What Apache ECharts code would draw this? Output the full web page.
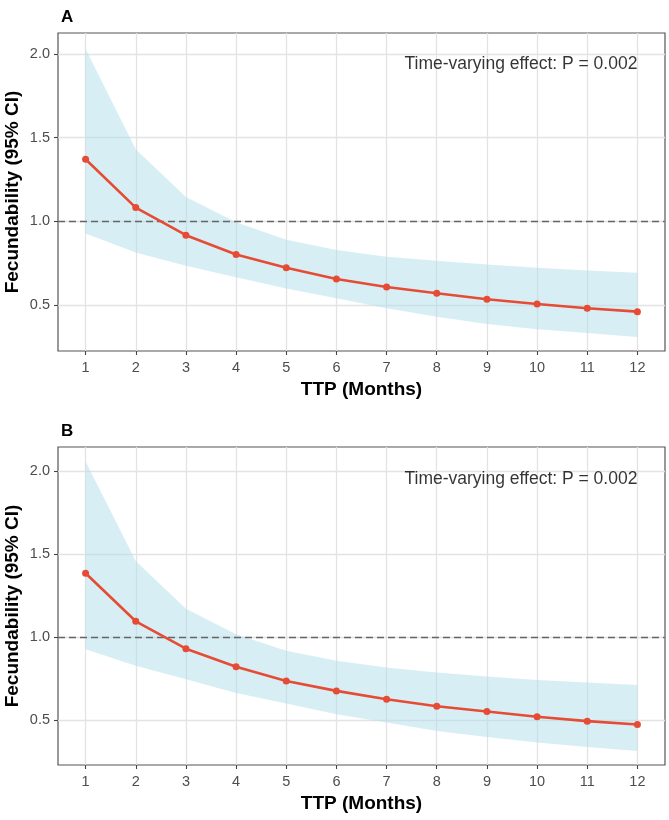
<!DOCTYPE html>
<html>
<head>
<meta charset="utf-8">
<script src="https://cdn.jsdelivr.net/npm/echarts@6/dist/echarts.min.js"></script>
<style>
html,body{margin:0;padding:0;background:#fff;}
#chart{width:669px;height:820px;}
</style>
</head>
<body>
<div id="chart"></div>
<script>
// ---- data ----
const months = [1, 2, 3, 4, 5, 6, 7, 8, 9, 10, 11, 12];
const yTicks = [0.5, 1.0, 1.5, 2.0];

const aFit   = [1.371, 1.082, 0.917, 0.802, 0.722, 0.655, 0.607, 0.570, 0.534, 0.506, 0.480, 0.460];
const aLower = [0.927, 0.814, 0.734, 0.665, 0.599, 0.540, 0.480, 0.430, 0.387, 0.355, 0.332, 0.308];
const aUpper = [2.030, 1.430, 1.145, 0.995, 0.890, 0.828, 0.788, 0.764, 0.742, 0.722, 0.706, 0.692];

const bFit   = [1.383, 1.094, 0.929, 0.820, 0.735, 0.675, 0.625, 0.583, 0.551, 0.519, 0.493, 0.473];
const bLower = [0.926, 0.826, 0.745, 0.662, 0.599, 0.535, 0.485, 0.434, 0.398, 0.365, 0.338, 0.314];
const bUpper = [2.055, 1.457, 1.170, 1.016, 0.916, 0.856, 0.816, 0.786, 0.762, 0.741, 0.726, 0.711];

const panelLabels = ['A', 'B'];
const annotationText = 'Time-varying effect: P = 0.002';
const annotationY = [1.94, 1.95];
const refLine = 1.0;
const xTitle = 'TTP (Months)';
const yTitle = 'Fecundability (95% CI)';

// ---- chart ----
const chart = echarts.init(document.getElementById('chart'), null, {renderer: 'canvas'});
const FONT = 'Liberation Sans, Arial, sans-serif';
const RED = '#E64B35';

function pairs(xs, ys) { return xs.map((x, i) => [x, ys[i]]); }

const grids = [
  {left: 58, top: 33, width: 607, height: 318},
  {left: 58, top: 447, width: 607, height: 318}
];
const yRanges = [[0.225, 2.125], [0.229, 2.143]];

const xAxes = [], yAxes = [], series = [];
[[aFit, aLower, aUpper], [bFit, bLower, bUpper]].forEach((set, k) => {
  const [fit, lower, upper] = set;
  Object.assign(grids[k], {
    show: true, borderColor: '#555555', borderWidth: 1.2,
    backgroundColor: 'transparent', containLabel: false, outerBoundsMode: 'none'
  });
  xAxes.push({
    type: 'value', gridIndex: k, min: 0.45, max: 12.55,
    name: xTitle, nameLocation: 'middle', nameGap: 29, nameMoveOverlap: false,
    nameTextStyle: {fontFamily: FONT, fontSize: 19, fontWeight: 'bold', color: '#000'},
    axisLine: {show: false},
    axisTick: {show: true, customValues: months, length: 4, lineStyle: {color: '#444', width: 1.1}},
    axisLabel: {customValues: months, margin: 9, fontFamily: FONT, fontSize: 14.5, color: '#4D4D4D'},
    splitLine: {show: true, lineStyle: {color: '#E3E3E3', width: 1.3}}
  });
  yAxes.push({
    type: 'value', gridIndex: k, min: yRanges[k][0], max: yRanges[k][1],
    name: yTitle, nameLocation: 'middle', nameGap: 36, nameMoveOverlap: false,
    nameTextStyle: {fontFamily: FONT, fontSize: 19, fontWeight: 'bold', color: '#000'},
    axisLine: {show: false},
    axisTick: {show: true, customValues: yTicks, length: 4, lineStyle: {color: '#444', width: 1.1}},
    axisLabel: {customValues: yTicks, margin: 8, fontFamily: FONT, fontSize: 14.5, color: '#4D4D4D',
      formatter: v => Number(v).toFixed(1)},
    splitLine: {show: true, lineStyle: {color: '#E3E3E3', width: 1.3}}
  });
  // confidence band as one polygon, mapped through the axes
  const bandRows = months.map((m, i) => [m, lower[i], upper[i]]);
  series.push({
    type: 'custom', xAxisIndex: k, yAxisIndex: k, silent: true, z: 1,
    data: bandRows,
    encode: {x: 0, y: [1, 2]},
    renderItem: function (params, api) {
      if (params.dataIndex !== 0) return null;
      const top = bandRows.map(r => api.coord([r[0], r[2]]));
      const bot = bandRows.slice().reverse().map(r => api.coord([r[0], r[1]]));
      return {
        type: 'polygon',
        shape: {points: top.concat(bot)},
        style: {fill: 'rgb(176,223,234)', opacity: 0.5}
      };
    }
  });
  series.push({
    type: 'line', xAxisIndex: k, yAxisIndex: k,
    data: pairs(months, fit), symbol: 'circle', symbolSize: 7, showSymbol: true,
    lineStyle: {color: RED, width: 2.6}, itemStyle: {color: RED}, z: 3,
    markLine: {
      silent: true, symbol: 'none', label: {show: false},
      lineStyle: {color: '#666666', type: [7, 4], width: 1.4},
      data: [{yAxis: refLine}], z: 2
    }
  });
  series.push({
    type: 'scatter', xAxisIndex: k, yAxisIndex: k, silent: true,
    data: [[months[months.length - 1], annotationY[k]]], symbolSize: 0,
    label: {show: true, position: 'left', distance: 0, formatter: annotationText,
      fontFamily: FONT, fontSize: 17.5, color: '#000', align: 'right', verticalAlign: 'middle'},
    z: 4
  });
});

chart.setOption({
  animation: false,
  backgroundColor: '#ffffff',
  title: panelLabels.map((t, k) => ({
    text: t, left: 56, top: k === 0 ? 4 : 418,
    textStyle: {fontFamily: FONT, fontSize: 17, fontWeight: 'bold', color: '#000'}
  })),
  grid: grids,
  xAxis: xAxes,
  yAxis: yAxes,
  series: series
});
</script>
</body>
</html>
